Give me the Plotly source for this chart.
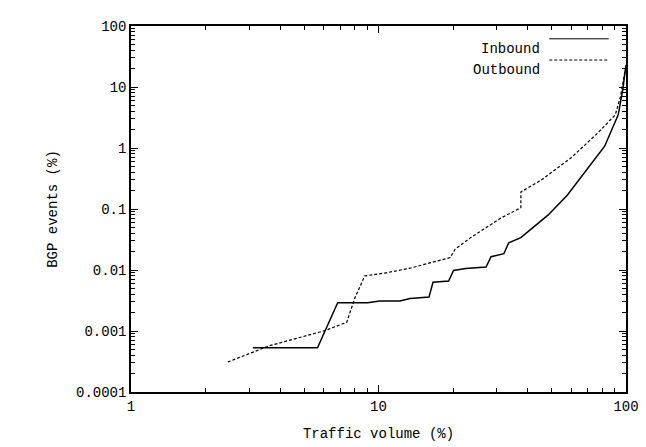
import plotly.graph_objects as go

in_x = [3.11, 5.67, 6.84, 9.05, 10.1, 12.2, 13.4, 16.0, 16.6, 19.2, 20.1, 22.5, 27.2, 28.5, 32.1, 33.6, 37.6,
        43.4, 48.5, 58, 70, 82, 93, 97, 100]
in_y = [0.00053, 0.00053, 0.0029, 0.0029, 0.0031, 0.0031, 0.0034, 0.0036, 0.0063, 0.0066, 0.0098, 0.0106,
        0.0112, 0.0165, 0.0185, 0.028, 0.034, 0.056, 0.08, 0.17, 0.47, 1.07, 3.5, 9, 23]
out_x = [2.46, 3.61, 6.1, 7.44, 8.03, 8.8, 10.6, 13.4, 19.5, 20.4, 23.6, 31.2, 37.6, 37.6, 45, 60, 77,
         90.5, 95, 100]
out_y = [0.00031, 0.00057, 0.00102, 0.00139, 0.0035, 0.0080, 0.0089, 0.0107, 0.016, 0.022, 0.034, 0.071,
         0.105, 0.19, 0.29, 0.69, 1.77, 3.5, 7, 23]
y_ticks = [0.0001, 0.001, 0.01, 0.1, 1, 10, 100]
y_labels = ["0.0001", "0.001", "0.01", "0.1", "1", "10", "100"]
x_ticks = [1, 10, 100]

font = dict(family="Liberation Mono, DejaVu Sans Mono, monospace", size=14, color="black")

fig = go.Figure()
fig.add_trace(go.Scatter(x=in_x, y=in_y, mode="lines", name="Inbound",
                         line=dict(color="black", width=1.5)))
fig.add_trace(go.Scatter(x=out_x, y=out_y, mode="lines", name="Outbound",
                         line=dict(color="black", width=1.2, dash="3px,2px")))

# legend drawn gnuplot-style: label on the left, sample on the right
for i, (name, dash) in enumerate([("Inbound", "solid"), ("Outbound", "3px,2px")]):
    yy = 0.965 - i * 0.058
    fig.add_annotation(x=0.83, y=yy, xref="paper", yref="paper", text=name, showarrow=False,
                       xanchor="right", font=font)
    fig.add_shape(type="line", x0=0.845, x1=0.965, y0=yy, y1=yy, xref="paper", yref="paper",
                  line=dict(color="black", width=1, dash=dash))

minor_x = [d * 10 ** e for e in range(2) for d in range(2, 10)]
minor_y = [d * 10.0 ** e for e in range(-4, 2) for d in range(2, 10)]
ax = dict(type="log", showgrid=False, showline=True, mirror="ticks", linecolor="black", linewidth=1.5,
          ticks="inside", ticklen=7, tickcolor="black", zeroline=False, tickfont=font)
fig.update_xaxes(**ax, range=[0, 2], tickvals=x_ticks, ticktext=["1", "10", "100"],
                 minor=dict(ticks="inside", ticklen=4, tickcolor="black", tickvals=minor_x),
                 title=dict(text="Traffic volume (%)", font=font))
fig.update_yaxes(**ax, range=[-4, 2], tickvals=y_ticks, ticktext=y_labels,
                 minor=dict(ticks="inside", ticklen=4, tickcolor="black", tickvals=minor_y),
                 title=dict(text="BGP events (%)", font=font))
fig.update_layout(width=646, height=447, plot_bgcolor="white", paper_bgcolor="white", font=font,
                  margin=dict(l=123, r=28, t=18, b=63), showlegend=False)
fig.write_html("out.html")
